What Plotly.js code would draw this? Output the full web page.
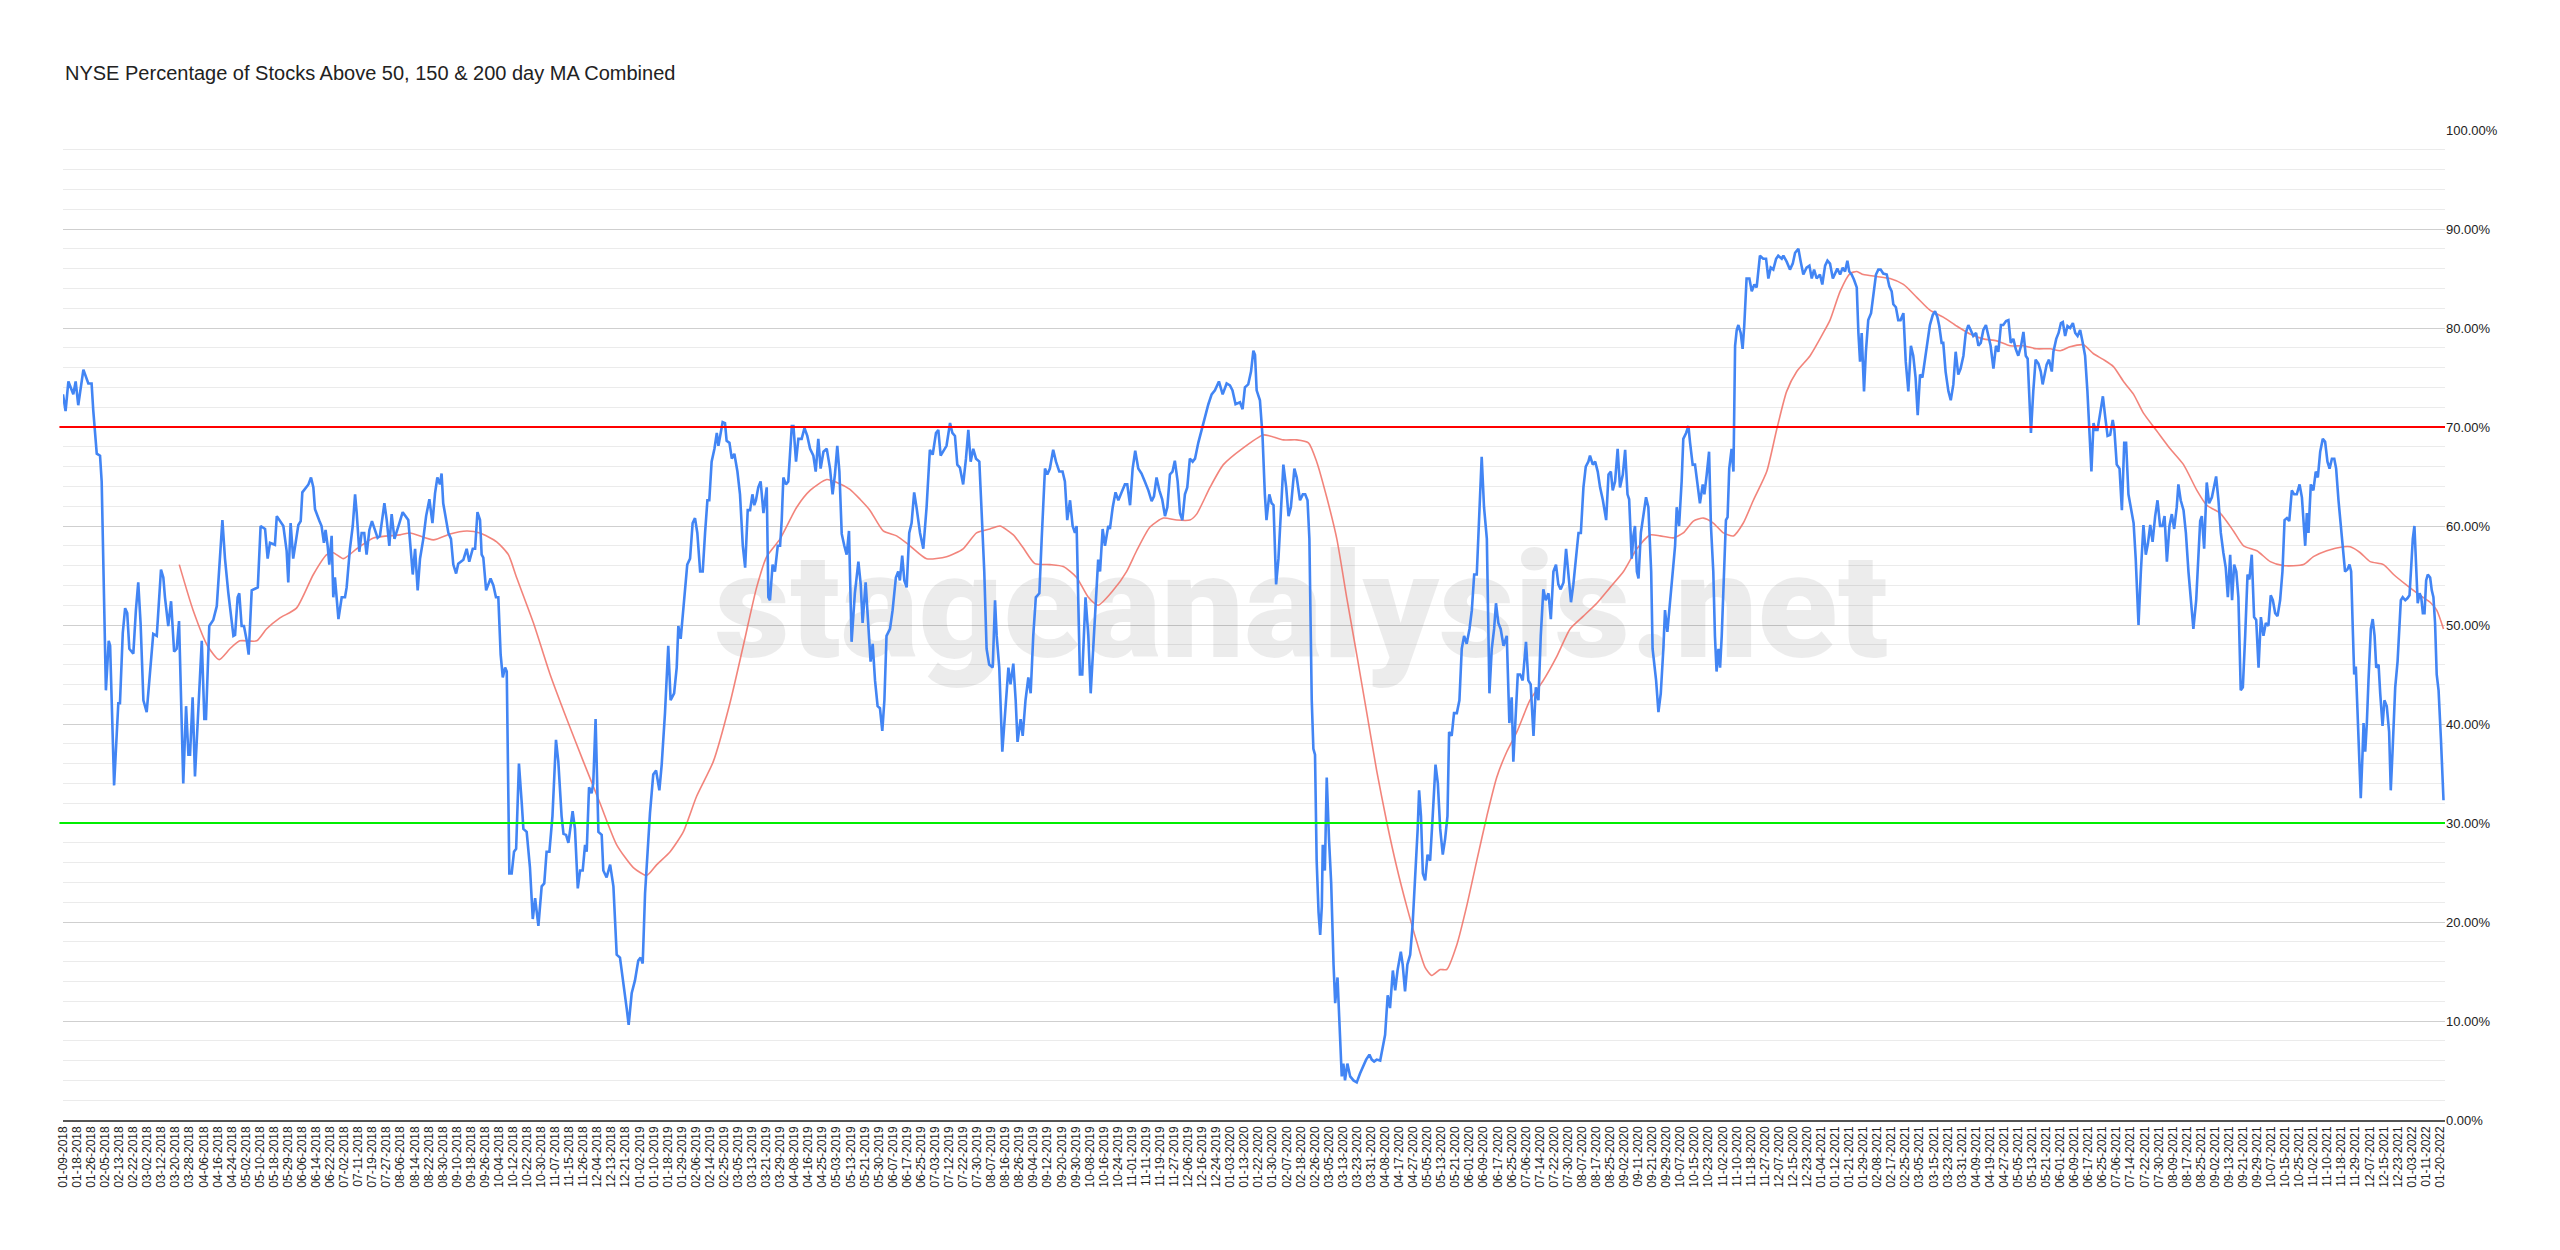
<!DOCTYPE html>
<html>
<head>
<meta charset="utf-8">
<script src="https://cdn.plot.ly/plotly-3.0.1.min.js"></script>
<style>html,body{margin:0;padding:0;background:#fff;}#chart{width:2560px;height:1250px;}</style>
</head>
<body>
<div id="chart"></div>
<script>
// ---------- DATA ----------
const chartTitle = "NYSE Percentage of Stocks Above 50, 150 & 200 day MA Combined";
const sessionsPerTick = 6; // one category label every 6 trading sessions
const tickLabels = [
"01-09-2018","01-18-2018","01-26-2018","02-05-2018","02-13-2018","02-22-2018","03-02-2018","03-12-2018","03-20-2018","03-28-2018","04-06-2018","04-16-2018","04-24-2018","05-02-2018","05-10-2018","05-18-2018","05-29-2018","06-06-2018","06-14-2018","06-22-2018","07-02-2018","07-11-2018","07-19-2018","07-27-2018","08-06-2018","08-14-2018","08-22-2018","08-30-2018","09-10-2018","09-18-2018","09-26-2018","10-04-2018","10-12-2018","10-22-2018","10-30-2018","11-07-2018","11-15-2018","11-26-2018","12-04-2018","12-13-2018","12-21-2018",
"01-02-2019","01-10-2019","01-18-2019","01-29-2019","02-06-2019","02-14-2019","02-25-2019","03-05-2019","03-13-2019","03-21-2019","03-29-2019","04-08-2019","04-16-2019","04-25-2019","05-03-2019","05-13-2019","05-21-2019","05-30-2019","06-07-2019","06-17-2019","06-25-2019","07-03-2019","07-12-2019","07-22-2019","07-30-2019","08-07-2019","08-16-2019","08-26-2019","09-04-2019","09-12-2019","09-20-2019","09-30-2019","10-08-2019","10-16-2019","10-24-2019","11-01-2019","11-11-2019","11-19-2019","11-27-2019","12-06-2019","12-16-2019","12-24-2019",
"01-03-2020","01-13-2020","01-22-2020","01-30-2020","02-07-2020","02-18-2020","02-26-2020","03-05-2020","03-13-2020","03-23-2020","03-31-2020","04-08-2020","04-17-2020","04-27-2020","05-05-2020","05-13-2020","05-21-2020","06-01-2020","06-09-2020","06-17-2020","06-25-2020","07-06-2020","07-14-2020","07-22-2020","07-30-2020","08-07-2020","08-17-2020","08-25-2020","09-02-2020","09-11-2020","09-21-2020","09-29-2020","10-07-2020","10-15-2020","10-23-2020","11-02-2020","11-10-2020","11-18-2020","11-27-2020","12-07-2020","12-15-2020","12-23-2020",
"01-04-2021","01-12-2021","01-21-2021","01-29-2021","02-08-2021","02-17-2021","02-25-2021","03-05-2021","03-15-2021","03-23-2021","03-31-2021","04-09-2021","04-19-2021","04-27-2021","05-05-2021","05-13-2021","05-21-2021","06-01-2021","06-09-2021","06-17-2021","06-25-2021","07-06-2021","07-14-2021","07-22-2021","07-30-2021","08-09-2021","08-17-2021","08-25-2021","09-02-2021","09-13-2021","09-21-2021","09-29-2021","10-07-2021","10-15-2021","10-25-2021","11-02-2021","11-10-2021","11-18-2021","11-29-2021","12-07-2021","12-15-2021","12-23-2021",
"01-03-2022","01-11-2022","01-20-2022"];

const yTickValues = [0,10,20,30,40,50,60,70,80,90,100];
const yTickText = ["0.00%","10.00%","20.00%","30.00%","40.00%","50.00%","60.00%","70.00%","80.00%","90.00%","100.00%"];
const upperLevel = 70;
const lowerLevel = 30;
const watermarkText = "stageanalysis.net";

// [trading session index, % of stocks above 50/150/200 MA combined]
const pctAbove = [
[0,73.3],[1.1,71.6],[2.3,74.6],[4.4,73.3],[5.4,74.6],[6.5,72.2],[8.7,75.8],[10.8,74.4],[12.2,74.4],[12.9,71.7],[14.4,67.3],[15.8,67.1],[16.5,64.5],[17.2,55.4],[18.3,43.4],[19.5,48.4],[20.1,47.9],[21.8,33.8],[23.6,42.1],[24.3,42.1],[25.5,49.2],[26.5,51.7],[27.4,51.2],[28.3,47.6],[30.0,47.1],[31.1,51.5],[32.1,54.3],[33.1,50.2],[34.3,42.4],[35.7,41.2],[37.1,45.0],[38.5,49.1],[40.0,48.9],[41.8,55.6],[42.8,54.8],[43.5,52.8],[44.9,49.9],[46.1,52.4],[47.4,47.3],[48.5,47.6],[49.5,50.4],[50.2,43.7],[51.3,34.0],[52.5,41.8],[53.5,36.9],[54.2,36.9],[55.3,42.7],[56.3,34.7],[57.7,41.1],[59.2,48.4],[60.3,40.5],[61.0,40.5],[62.4,49.9],[64.1,50.5],[65.6,51.9],[67.0,56.7],[68.0,60.6],[69.1,56.7],[70.5,53.3],[72.7,48.9],[73.4,49.0],[74.5,52.8],[75.2,53.2],[76.2,49.9],[77.2,49.9],[78.4,48.4],[79.2,47.0],[80.5,53.5],[83.1,53.8],[84.3,60.0],[86.2,59.7],[87.3,56.7],[88.3,58.3],[90.4,58.1],[91.2,61.0],[94.0,60.0],[95.4,57.5],[96.1,54.3],[97.1,60.3],[98.2,56.7],[100.4,60.1],[101.4,60.5],[102.1,63.4],[104.7,64.2],[105.8,64.9],[106.8,63.9],[107.5,61.7],[109.4,60.5],[110.3,60.0],[111.3,58.3],[112.0,59.6],[112.9,58.0],[113.6,56.1],[114.6,59.0],[115.3,52.8],[116.0,54.8],[117.5,50.6],[118.9,52.8],[120.3,52.8],[121.0,53.8],[122.4,57.7],[123.6,60.0],[124.6,63.2],[125.3,61.3],[126.4,57.4],[127.4,59.3],[128.5,59.3],[129.5,57.1],[130.7,59.6],[131.8,60.5],[134.2,58.8],[135.2,59.0],[137.1,62.3],[138.1,60.6],[139.2,58.0],[140.2,61.2],[141.4,58.7],[143.5,60.3],[144.9,61.4],[147.3,60.6],[148.3,58.0],[149.2,55.1],[150.2,57.7],[151.3,53.5],[152.3,56.7],[153.7,58.7],[154.9,61.0],[156.3,62.7],[157.6,60.3],[158.7,63.3],[159.7,64.9],[160.8,64.2],[161.5,65.3],[162.2,62.3],[164.4,59.3],[165.5,58.7],[166.5,56.1],[167.7,55.2],[168.6,56.2],
[170.8,56.6],[172.2,57.7],[173.3,56.4],[174.8,57.7],[175.8,57.7],[176.8,61.4],[177.9,60.6],[178.6,57.1],[179.3,56.8],[180.5,53.5],[181.5,54.1],[182.4,54.7],[183.6,54.0],[184.7,52.8],[185.7,52.8],[186.7,47.0],[187.6,44.7],[188.6,45.7],[189.3,45.3],[190.4,24.9],[191.4,24.9],[192.4,27.1],[193.3,27.4],[194.5,36.0],[195.7,32.0],[196.4,29.4],[197.8,29.1],[199.2,25.5],[200.4,20.3],[201.4,22.4],[202.8,19.6],[204.2,23.6],[205.3,23.9],[206.3,27.1],[207.5,27.1],[208.8,30.7],[210.3,38.4],[211.3,36.2],[212.7,30.7],[213.5,28.9],[214.6,28.8],[215.6,28.0],[217.4,31.2],[218.4,29.4],[219.6,23.4],[220.6,25.2],[221.7,25.2],[222.7,27.8],[223.4,27.1],[224.4,33.6],[225.5,33.0],[226.2,34.0],[227.2,40.5],[228.4,29.1],[229.8,28.8],[230.5,25.2],[231.9,24.5],[233.4,25.8],[234.8,23.6],[236.2,16.7],[237.6,16.4],[238.8,14.4],[240.5,11.2],[241.3,9.6],[242.6,12.8],[244.0,14.1],[245.4,16.1],[246.4,16.4],[247.3,15.8],[248.3,22.9],[250.4,31.0],[251.8,34.9],[253.0,35.3],[254.4,33.3],[255.4,35.9],[256.8,41.1],[258.2,47.9],[259.2,42.4],[260.7,43.1],[261.8,45.7],[262.5,49.9],[263.5,48.6],[264.6,51.5],[266.3,56.1],[267.5,56.7],[268.6,60.3],[269.6,60.8],[270.6,59.3],[271.8,55.4],[272.9,55.4],[273.9,59.3],[274.9,62.6],[275.7,62.6],[276.7,66.5],[277.9,67.8],[278.9,69.4],[279.6,68.1],[280.6,69.4],[281.4,70.5],[282.4,70.4],[283.1,68.6],[284.3,68.4],[285.3,66.8],[286.4,67.3],[287.7,65.5],[288.8,63.2],[290.0,58.0],[291.0,55.8],[292.1,61.6],[293.1,61.6],[294.1,63.2],[294.9,62.1],[295.6,62.6],[296.6,63.9],[297.6,64.5],[298.8,61.3],[299.5,62.6],[300.2,63.9],[300.9,52.8],[301.6,52.5],[302.7,56.1],[303.7,55.4],[304.9,58.0],[305.9,58.0],[306.6,60.6],[307.3,64.9],[308.4,64.2],[309.4,64.5],[310.9,70.1],[311.6,70.1],[312.7,66.5],[313.7,68.8],[315.1,68.8],[316.3,69.9],[317.5,69.1],[318.7,67.8],[320.1,67.1],[321.1,65.5],[322.2,68.8],[323.2,65.8],[324.4,67.5],[325.8,67.8],[327.2,65.8],[328.3,63.2],[329.3,65.2],[330.3,68.1],[331.2,65.5],[332.2,59.2],[333.3,58.0],[334.3,57.1],[335.3,59.5],
[336.4,48.3],[337.8,53.2],[339.3,56.4],[340.3,54.1],[341.1,50.2],[342.4,54.3],[343.5,49.6],[344.5,46.3],[345.4,48.1],[346.4,44.4],[347.5,41.8],[348.5,41.6],[349.5,39.3],[350.4,42.4],[351.3,48.9],[352.8,49.6],[353.9,51.5],[355.3,54.8],[356.3,55.4],[357.0,54.5],[358.0,57.0],[358.9,54.5],[359.9,53.8],[361.0,59.3],[362.0,60.3],[363.1,63.4],[364.1,61.9],[365.6,59.3],[367.0,57.7],[368.4,61.9],[369.8,67.7],[371.0,67.2],[372.4,69.4],[373.4,69.7],[374.4,67.1],[375.5,67.5],[376.9,68.1],[378.4,70.4],[379.4,69.4],[380.5,69.1],[381.5,66.2],[382.6,65.9],[384.0,64.2],[385.2,66.8],[386.2,69.7],[387.2,66.5],[388.3,67.8],[389.5,66.8],[390.9,66.5],[391.9,61.3],[393.0,55.4],[394.0,47.6],[395.1,46.0],[396.6,45.7],[397.6,52.5],[398.3,48.9],[399.4,45.7],[400.7,37.2],[401.8,41.1],[403.3,45.7],[404.2,44.0],[405.4,46.1],[406.4,42.4],[407.2,38.2],[408.5,40.5],[409.4,38.8],[410.6,42.4],[411.8,44.7],[412.8,43.1],[413.9,48.9],[415.0,52.8],[416.5,53.2],[417.5,58.7],[418.9,65.8],[419.9,65.2],[421.0,65.8],[422.4,67.7],[423.6,66.5],[425.0,65.5],[426.4,65.5],[427.4,64.5],[428.4,60.6],[429.6,62.6],[430.7,60.0],[431.7,59.3],[432.4,60.0],[433.8,45.0],[434.8,45.0],[436.2,52.8],[437.4,48.9],[438.4,43.1],[439.8,48.6],[440.9,54.1],[441.6,56.6],[442.4,55.4],[443.5,59.7],[444.5,58.0],[445.9,60.0],[446.6,59.7],[447.8,61.9],[449.0,63.4],[450.2,62.6],[451.6,63.4],[453.0,64.2],[454.0,64.2],[455.2,62.1],[456.3,65.8],[457.4,67.6],[458.7,65.8],[460.1,65.3],[461.5,64.5],[463.0,63.6],[464.4,62.5],[465.4,63.0],[466.5,64.9],[467.7,63.6],[468.9,62.7],[470.1,61.0],[471.1,61.9],[472.2,65.2],[473.3,65.5],[474.3,66.6],[475.5,64.5],[476.5,61.3],[477.5,60.6],[478.6,63.2],[479.6,63.9],[480.7,66.8],[481.9,66.5],[482.9,66.8],[484.3,68.4],[485.7,69.7],[487.1,70.7],[488.6,72.3],[490.0,73.3],[491.4,73.7],[493.1,74.6],[494.7,73.3],[496.4,74.4],[497.8,74.2],[498.9,73.7],[500.2,72.3],[502.1,72.5],[503.2,71.8],[504.2,74.0],[505.6,74.3],[506.8,75.6],[507.8,77.7],[508.5,77.3],[509.2,73.7],[510.6,72.7],[511.7,69.1],[512.7,63.2],[513.4,60.6],
[514.6,63.2],[515.6,62.3],[516.4,62.1],[517.5,54.1],[518.5,56.7],[519.6,61.9],[520.6,66.2],[521.8,63.9],[522.8,61.0],[523.8,61.9],[525.3,65.8],[526.3,64.9],[527.7,62.6],[528.9,63.2],[529.9,63.2],[530.9,62.6],[531.7,58.7],[532.7,42.4],[533.4,37.5],[534.1,36.9],[534.8,26.2],[535.6,21.0],[536.3,18.7],[537.0,21.6],[537.4,27.8],[538.3,25.2],[539.1,34.6],[540.1,28.2],[541.0,23.9],[542.0,15.7],[542.7,11.8],[543.7,14.4],[544.8,7.9],[545.5,4.4],[546.2,5.7],[546.9,4.0],[547.9,5.7],[549.1,4.4],[550.5,4.0],[551.9,3.8],[553.3,4.7],[554.7,5.5],[555.9,6.1],[557.3,6.6],[558.3,6.1],[559.3,5.9],[560.4,6.1],[561.9,6.0],[563.0,7.3],[564.0,8.6],[565.1,12.6],[566.1,11.3],[567.3,15.1],[568.3,13.1],[569.3,15.1],[570.7,17.0],[571.5,15.7],[572.5,13.0],[573.5,15.7],[574.7,16.7],[575.7,19.6],[576.8,24.2],[577.9,29.4],[578.5,33.3],[579.3,30.7],[580.1,24.9],[581.1,24.2],[582.1,26.8],[583.2,26.2],[584.3,30.7],[585.5,35.9],[586.5,34.0],[587.5,29.4],[588.6,26.8],[589.6,28.4],[590.6,30.7],[591.3,39.2],[592.4,38.8],[593.4,41.1],[594.6,41.1],[595.7,42.4],[596.7,47.6],[597.7,48.9],[598.8,48.1],[600.0,49.6],[601.0,51.5],[602.0,55.1],[603.1,55.1],[604.2,60.6],[605.2,67.0],[606.2,61.9],[607.4,58.7],[608.5,43.1],[609.5,47.6],[610.5,49.6],[611.3,52.2],[612.3,50.2],[613.3,49.6],[614.5,47.9],[615.9,48.9],[617.0,40.1],[618.0,42.7],[618.7,36.2],[619.7,40.5],[620.6,45.0],[621.6,45.0],[622.7,44.4],[624.1,48.3],[625.1,44.4],[626.1,44.0],[627.3,38.8],[628.3,43.7],[629.4,42.4],[630.4,48.9],[631.5,53.6],[632.5,52.5],[633.7,53.2],[634.7,50.6],[635.8,55.4],[636.9,56.1],[637.9,54.1],[638.9,53.6],[640.1,54.3],[641.2,57.7],[642.2,54.8],[643.3,52.3],[644.3,54.1],[645.5,56.7],[646.5,59.3],[647.5,59.3],[648.6,63.9],[649.6,66.0],[650.7,66.5],[651.4,67.1],[652.6,66.2],[653.6,66.5],[654.7,65.5],[655.7,63.9],[656.9,62.6],[658.3,60.6],[659.3,65.2],[660.3,65.5],[661.1,63.6],[662.1,64.5],[663.2,67.8],[664.2,63.9],[665.4,65.2],[666.4,67.7],[667.4,63.2],[668.1,62.7],[669.2,56.7],[669.9,59.0],[670.6,60.0],[671.4,55.4],[672.1,54.7],[673.1,59.3],[674.2,61.3],[675.3,62.9],[676.3,61.9],[677.5,55.4],
[678.1,47.6],[679.6,44.4],[680.6,41.2],[681.6,43.1],[682.7,47.6],[683.4,51.5],[684.4,49.3],[685.5,52.2],[686.7,55.4],[687.7,58.0],[688.4,61.9],[689.4,60.0],[690.5,64.5],[691.2,68.8],[692.4,69.4],[693.4,70.1],[694.1,68.4],[695.2,66.2],[696.2,66.2],[697.2,64.5],[698.3,62.3],[699.5,64.2],[700.2,63.2],[701.2,65.2],[702.2,67.5],[703.0,60.0],[704.0,55.4],[704.7,48.9],[705.4,45.3],[706.2,47.6],[706.9,45.7],[707.6,48.9],[708.6,56.7],[709.4,60.6],[710.1,60.9],[710.8,65.8],[711.8,67.8],[712.6,65.5],[713.3,78.2],[714.0,79.8],[714.7,80.3],[715.7,79.5],[716.5,77.9],[717.2,80.2],[718.2,85.0],[719.4,85.0],[720.4,83.7],[721.5,84.4],[722.5,84.1],[723.9,87.3],[725.3,87.0],[726.5,87.0],[727.5,85.0],[728.5,86.1],[729.6,85.9],[730.8,87.0],[731.7,87.3],[733.2,87.0],[733.9,87.3],[735.3,86.7],[736.7,85.9],[737.9,86.5],[738.9,87.6],[740.3,88.0],[741.3,86.7],[742.4,85.4],[743.8,86.1],[745.0,86.3],[746.0,85.0],[747.0,85.9],[748.1,85.0],[749.5,85.4],[750.5,84.4],[751.7,86.3],[752.7,86.8],[753.8,86.5],[755.0,85.0],[755.9,85.5],[756.9,86.0],[758.1,85.4],[759.2,86.1],[760.2,85.7],[761.2,86.8],[762.0,85.7],[763.0,85.4],[764.0,84.9],[765.2,84.1],[765.9,79.5],[766.6,76.6],[767.3,79.5],[768.3,73.6],[769.1,77.6],[770.1,80.8],[771.3,81.5],[772.3,83.4],[773.4,85.4],[774.4,85.9],[775.4,85.9],[776.5,85.5],[778.0,85.4],[779.1,84.2],[780.1,83.7],[780.8,82.4],[781.9,82.1],[782.9,80.8],[783.9,80.8],[785.1,81.5],[786.1,76.6],[787.2,73.6],[788.3,78.2],[789.3,77.2],[790.3,75.0],[791.2,71.2],[792.2,75.3],[793.2,75.0],[794.3,76.9],[795.4,78.9],[796.4,80.3],[797.6,81.3],[798.6,81.7],[799.6,81.1],[800.4,80.2],[801.4,78.5],[802.1,78.5],[803.1,75.6],[804.3,73.6],[805.3,72.7],[806.4,74.3],[807.4,77.6],[808.5,75.3],[809.5,75.9],[810.7,77.2],[811.7,79.5],[812.8,80.3],[813.8,79.8],[814.9,79.2],[816.1,79.5],[817.1,78.2],[818.1,78.5],[819.2,79.8],[820.3,80.3],[821.3,79.2],[822.3,78.2],[823.5,75.9],[824.6,78.2],[825.6,77.6],[826.7,80.3],[827.7,80.3],[828.9,80.7],[829.9,80.8],[830.9,78.5],[832.0,78.9],[833.0,77.9],[834.1,77.2],[835.3,78.2],[836.3,79.6],[837.3,77.2],[838.1,76.9],[838.8,72.3],[839.5,69.4],[840.5,73.6],[841.5,76.8],[842.7,76.4],[843.7,75.6],[844.5,74.3],[845.5,75.6],[846.2,76.3],[847.2,76.8],
[848.4,75.6],[849.1,77.6],[850.3,78.9],[851.3,79.5],[852.3,80.5],[853.1,80.6],[854.1,79.2],[855.1,80.2],[856.2,80.0],[857.4,80.5],[858.4,79.5],[859.4,79.2],[860.5,79.8],[861.6,78.5],[862.6,77.2],[863.6,73.6],[864.5,69.7],[865.3,65.5],[866.2,70.4],[867.0,69.7],[867.9,69.7],[869.0,71.4],[870.2,73.1],[871.2,71.0],[872.2,69.1],[873.3,69.2],[874.4,70.7],[875.1,69.7],[876.1,66.2],[877.3,65.8],[878.3,61.6],[879.3,68.4],[880.1,68.4],[881.1,63.2],[882.1,61.9],[883.3,60.3],[884.2,56.7],[885.4,50.0],[886.4,55.4],[887.5,60.1],[888.5,57.1],[889.4,58.2],[890.4,60.1],[891.4,58.4],[892.5,61.0],[893.5,62.6],[894.6,60.0],[895.6,60.0],[896.5,61.0],[897.5,56.4],[898.6,60.0],[899.6,61.2],[900.6,59.7],[901.7,61.9],[902.4,64.2],[903.4,62.6],[904.6,61.6],[905.6,59.3],[906.7,55.4],[907.8,52.1],[908.8,49.6],[910.0,52.5],[911.0,56.7],[911.7,60.5],[912.4,61.0],[913.4,57.7],[914.5,64.4],[915.5,62.3],[916.7,62.9],[917.7,64.0],[918.5,65.0],[919.5,62.6],[920.5,59.3],[921.6,57.3],[922.6,55.8],[923.5,52.8],[924.5,57.1],[925.3,52.5],[926.2,56.1],[927.1,55.4],[928.0,52.8],[929.0,43.4],[929.9,43.7],[930.9,48.9],[931.9,55.1],[932.7,54.6],[933.7,57.1],[934.7,50.8],[935.6,50.5],[936.6,45.7],[937.6,50.8],[938.7,48.9],[939.7,50.2],[940.8,49.9],[941.8,53.0],[942.7,52.5],[943.7,51.2],[944.7,50.9],[945.8,52.5],[946.8,55.4],[947.7,60.6],[948.7,60.8],[949.7,60.5],[950.8,63.6],[951.8,63.2],[952.9,63.2],[954.1,64.2],[955.1,62.9],[955.8,60.3],[956.5,58.0],[957.2,61.3],[957.9,59.3],[958.9,64.2],[960.0,63.6],[961.0,65.5],[961.9,64.9],[962.9,67.5],[964.0,68.8],[965.0,68.5],[966.0,66.5],[966.9,65.8],[967.9,66.8],[968.9,66.8],[969.7,65.8],[970.7,62.6],[971.7,60.3],[972.5,58.0],[973.5,55.4],[974.5,55.6],[975.4,56.1],[976.1,55.4],[976.8,49.6],[977.4,45.0],[978.1,45.8],[978.8,41.1],[979.5,35.9],[980.2,32.5],[980.9,36.6],[981.4,40.1],[982.1,37.2],[982.8,40.1],[983.5,44.4],[984.5,49.6],[985.3,50.6],[986.1,48.9],[986.8,45.7],[987.8,46.0],[988.5,43.1],[989.5,39.8],[990.3,42.4],[991.3,41.8],[992.3,39.2],[993.0,33.3],[993.7,36.9],[994.9,43.7],[995.9,46.3],[996.6,48.9],[997.3,52.5],[998.1,52.8],[999.2,52.5],[1000.1,52.7],[1001.0,53.0],[1001.7,55.8],[1002.4,58.7],[1003.1,60.0],[1003.8,56.7],[1004.5,52.2],[1005.3,53.2],[1006.0,52.8],[1006.7,51.2],[1007.4,51.2],[1008.1,54.5],[1008.8,55.1],[1009.8,54.8],[1010.5,53.5],[1011.2,52.8],[1011.9,50.2],[1012.6,45.0],[1013.4,43.4],[1014.4,38.5],[1015.5,32.3]
];

// [trading session index, moving average of the series]
const movingAvg = [
[49.6,56.1],[55.5,51.5],[61.9,47.8],[66.6,46.5],[71.2,47.6],[75.4,48.4],[82.6,48.4],[86.8,49.6],[92.4,50.7],[99.6,51.7],[106.8,55.1],[112.5,57.1],[115.3,57.3],[119.6,56.7],[125.3,57.7],[132.4,58.8],[143.8,59.1],[148.0,59.3],[158.0,58.6],[165.1,59.2],
[172.2,59.5],[177.9,59.3],[185.0,58.4],[190.0,57.1],[193.5,54.8],[200.7,50.2],[207.8,45.0],[214.9,40.5],[222.0,36.2],[229.1,32.0],[236.2,27.8],[243.3,25.5],[249.0,24.7],[253.3,25.8],[259.0,27.1],[264.6,29.1],[270.3,32.7],[277.4,36.2],[284.5,42.1],[290.2,47.9],[295.9,53.8],[300.2,56.9],[305.9,58.7],[313.0,61.9],[318.7,63.6],[325.8,64.7],[330.1,64.4],
[335.7,63.7],[340.0,62.7],[344.2,61.6],[349.9,59.5],[355.6,59.0],[361.3,58.0],[368.4,56.7],[376.9,56.9],[384.0,57.7],[389.7,59.3],[395.4,59.7],[399.7,60.0],[405.4,59.1],[409.6,57.8],[414.6,56.2],[421.0,56.1],[426.7,55.9],[432.4,54.8],[437.4,52.8],[441.6,52.0],[448.0,53.5],[453.7,55.4],[458.0,57.5],[463.7,59.9],[469.4,60.8],[475.1,60.6],[480.7,60.6],[483.6,61.2],[489.3,63.9],[495.0,66.2],[503.5,67.9],[512.0,69.2],
[514.9,69.1],[520.6,68.7],[526.3,68.7],[531.3,68.4],[534.8,66.5],[539.1,62.9],[543.4,58.7],[547.6,52.8],[551.9,47.0],[556.2,41.1],[560.4,35.3],[564.7,30.1],[569.0,25.5],[573.2,21.6],[577.5,18.0],[581.1,15.4],[583.9,14.6],[587.5,15.2],[590.3,15.2],[594.6,17.7],[598.8,21.6],[603.1,26.2],[607.4,30.7],[611.6,34.6],[615.9,37.2],[620.2,39.2],[625.8,42.4],[631.5,44.4],[637.2,46.8],[642.9,49.6],[648.6,50.9],[654.3,52.2],[660.0,53.8],[665.7,55.4],[671.4,57.7],[677.0,59.1],[681.3,59.0],
[687.0,58.8],[691.2,59.3],[695.5,60.5],[699.8,60.8],[704.0,60.3],[708.3,59.3],[712.6,59.0],[716.8,60.3],[721.1,62.6],[726.8,65.5],[731.0,69.7],[735.3,73.6],[739.6,75.6],[745.3,77.2],[750.9,79.5],[753.8,80.8],[758.1,83.7],[762.3,85.5],[765.2,85.7],[768.0,85.4],[773.7,85.2],[779.4,85.0],[785.1,84.4],[790.8,83.1],[796.4,81.8],[802.1,81.1],[807.8,80.2],[813.5,79.4],[819.2,78.9],[824.9,78.7],[830.6,78.2],[836.3,78.2],[841.9,77.9],
[847.7,77.9],[852.0,77.7],[856.2,78.1],[861.9,78.3],[866.2,77.4],[870.5,76.8],[874.7,76.1],[879.0,74.6],[883.3,73.3],[887.5,71.4],[893.2,69.6],[898.9,67.8],[904.6,66.2],[910.3,63.6],[914.5,62.1],[920.2,61.3],[925.9,59.5],[930.2,58.0],[935.9,57.5],[941.6,56.4],[947.2,56.0],[955.8,56.1],[960.0,56.9],[965.7,57.5],[972.8,57.9],[975.7,57.9],[980.0,57.3],[984.2,56.4],[989.9,56.1],[994.2,55.1],[999.9,54.0],[1005.5,53.0],[1009.8,52.3],[1012.6,51.5],[1015.5,49.6]
];

// ---------- CHART ----------
const FONT = "Liberation Sans, Arial, Helvetica, sans-serif";
const tickVals = tickLabels.map((_, i) => i * sessionsPerTick);
const lastSession = (tickLabels.length - 1) * sessionsPerTick;

const traces = [
  {
    x: [lastSession * 0.521], y: [50.5], mode: "text", text: [watermarkText],
    textfont: {family: "Roboto, Liberation Sans, Arial, sans-serif", size: 147, color: "rgba(0,0,0,0.075)", weight: 900},
    hoverinfo: "skip", showlegend: false, cliponaxis: false
  },
  {
    x: movingAvg.map(p => p[0]), y: movingAvg.map(p => p[1]),
    mode: "lines", line: {color: "rgba(240,110,100,0.85)", width: 1.6, shape: "spline", smoothing: 0.6},
    hoverinfo: "skip", showlegend: false
  },
  {
    x: pctAbove.map(p => p[0]), y: pctAbove.map(p => p[1]),
    mode: "lines", line: {color: "#4285F4", width: 2.6},
    hoverinfo: "skip", showlegend: false
  }
];

const layout = {
  width: 2560, height: 1250,
  paper_bgcolor: "#ffffff", plot_bgcolor: "#ffffff",
  margin: {l: 63, r: 115, t: 130, b: 130, pad: 0},
  showlegend: false,
  title: {
    text: chartTitle, xref: "container", yref: "container",
    x: 65 / 2560, xanchor: "left", y: 1 - 73 / 1250, yanchor: "middle",
    font: {family: FONT, size: 20, color: "#222222"}
  },
  xaxis: {
    range: [0, lastSession * 1.00211],
    tickmode: "array", tickvals: tickVals, ticktext: tickLabels,
    tickangle: -90, tickfont: {family: FONT, size: 12, color: "#222222"},
    showgrid: false, zeroline: false, showline: true, linecolor: "#555555", linewidth: 1.5,
    ticks: "", ticklen: 0, fixedrange: true
  },
  yaxis: {
    range: [0, 100], side: "right",
    tickmode: "array", tickvals: yTickValues, ticktext: yTickText,
    tickfont: {family: FONT, size: 13, color: "#222222"},
    showgrid: true, gridcolor: "#cfcfcf", gridwidth: 1,
    minor: {dtick: 2, showgrid: true, gridcolor: "#ebebeb", gridwidth: 1},
    zeroline: false, showline: false, ticks: "", fixedrange: true
  },
  shapes: [
    {type: "line", xref: "paper", x0: -0.0015, x1: 1, yref: "y", y0: upperLevel, y1: upperLevel,
     line: {color: "#ff0000", width: 2}, layer: "above"},
    {type: "line", xref: "paper", x0: -0.0015, x1: 1, yref: "y", y0: lowerLevel, y1: lowerLevel,
     line: {color: "#00ee00", width: 2}, layer: "above"}
  ]
};

Plotly.newPlot("chart", traces, layout, {staticPlot: true, displayModeBar: false});
</script>
</body>
</html>
